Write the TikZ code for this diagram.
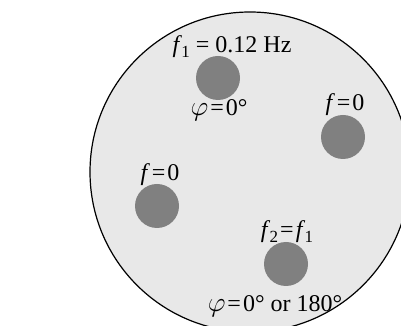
\documentclass[tikz,border=0pt]{standalone}
\usepackage{fontspec}
\setmainfont{Liberation Serif}
\usepackage{tikz}
\usetikzlibrary{positioning}
\definecolor{plateGray}{HTML}{E8E8E8}
\definecolor{spotGray}{HTML}{808080}
\newcommand{\fsub}[1]{\textit{f}\kern-0.3pt\raisebox{-0.4ex}{\fontsize{8.5}{8.5}\selectfont #1}}
\newcommand{\eqs}{\kern1pt=\kern1pt}
\newcommand{\phis}{\scalebox{1.15}{$\varphi$}}

\begin{document}
\begin{tikzpicture}[x=0.5pt, y=0.5pt,
    spot/.style={circle, fill=spotGray, minimum size=22pt, inner sep=0pt},
    lab/.style={inner sep=0pt, font=\fontsize{12}{14}\selectfont}]
  \useasboundingbox (0,0) rectangle (401,326);
  \clip (0,0) rectangle (401,326);
  % ------- the plate -------
  \draw[fill=plateGray, line width=0.6pt] (250,154) circle (160);
  % ------- spots -------
  \node[spot] (top)   at (218,248) {};
  \node[spot] (right) at (343,189) {};
  \node[spot] (left)  at (157,120) {};
  \node[spot] (bot)   at (286,62)  {};
  % ------- labels -------
  \node[lab] (topf)   at (232,279) {\fsub{1}\,\eqs\,0.12 Hz};
  \node[lab] (topphi) at (219,216) {\phis\eqs0°};
  \node[lab] (rightf) at (345,221) {\textit{f}\eqs0};
  \node[lab] (leftf)  at (160,151) {\textit{f}\eqs0};
  \node[lab] (botf)   at (287,94)  {\fsub{2}\eqs\fsub{1}};
  \node[lab] (botphi) at (275,20)  {\phis\eqs0° or 180°};
\end{tikzpicture}
\end{document}
